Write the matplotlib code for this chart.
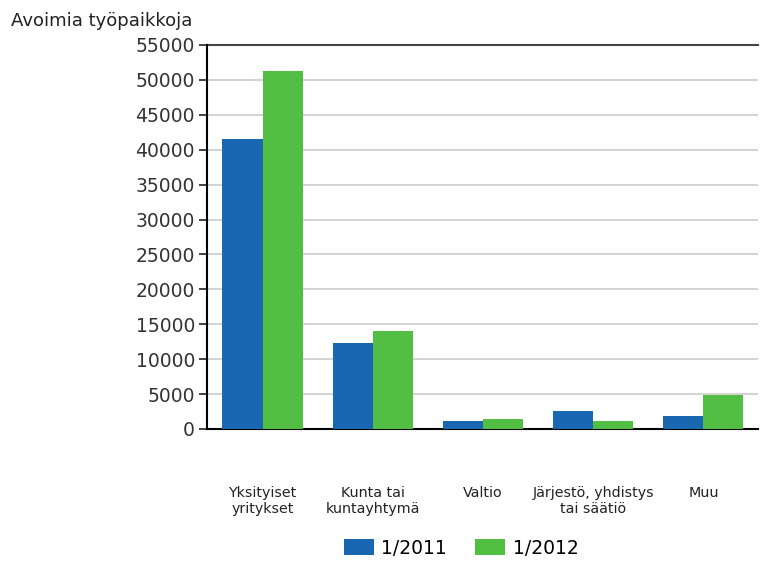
import numpy as np
import matplotlib.pyplot as plt

categories = ["Yksityiset\nyritykset", "Kunta tai\nkuntayhtymä", "Valtio",
              "Järjestö, yhdistys\ntai säätiö", "Muu"]
series_names = ["1/2011", "1/2012"]
values_2011 = [41500, 12300, 1200, 2600, 1900]
values_2012 = [51300, 14000, 1400, 1200, 4900]
yticks = list(range(0, 55001, 5000))

colors = ["#1967b0", "#52be43"]

plt.rcParams["font.family"] = ["DejaVu Sans"]

fig = plt.figure(figsize=(7.6, 5.61), dpi=100)
ax = fig.add_axes([0.273, 0.2353, 0.725, 0.6845])

x = np.arange(len(categories))
w = 0.364
ax.bar(x - w / 2, values_2011, w, color=colors[0], label=series_names[0], zorder=3)
ax.bar(x + w / 2, values_2012, w, color=colors[1], label=series_names[1], zorder=3)

ax.set_xlim(-0.5, len(categories) - 0.5)
ax.set_ylim(0, 55000)
ax.set_yticks(yticks)
ax.set_yticklabels([str(t) for t in yticks], fontsize=13.5, color="#333333")
ax.yaxis.grid(True, color="#cccccc", linewidth=1.2, zorder=0)
ax.tick_params(axis="y", length=6, width=1.2, color="#222222", pad=3)
ax.set_xticks([])

for s in ["top", "right"]:
    ax.spines[s].set_visible(False)
ax.spines["left"].set_linewidth(1.5)
ax.spines["bottom"].set_linewidth(1.5)
ax.axhline(55000, color="#444444", linewidth=1.5, zorder=2, clip_on=False)

for i, c in enumerate(categories):
    ax.text(i, -8200, c, ha="center", va="top", fontsize=10.3, color="#222222")

fig.text(0.014, 0.962, "Avoimia työpaikkoja", fontsize=13, color="#222222",
         ha="left", va="center")

ax.legend(loc="center", bbox_to_anchor=(0.46, -0.31), ncol=2, frameon=False,
          fontsize=13.5, handlelength=1.6, handleheight=0.9, columnspacing=1.5,
          handletextpad=0.4, borderpad=0.2)

fig.savefig("out.png", dpi=100)
